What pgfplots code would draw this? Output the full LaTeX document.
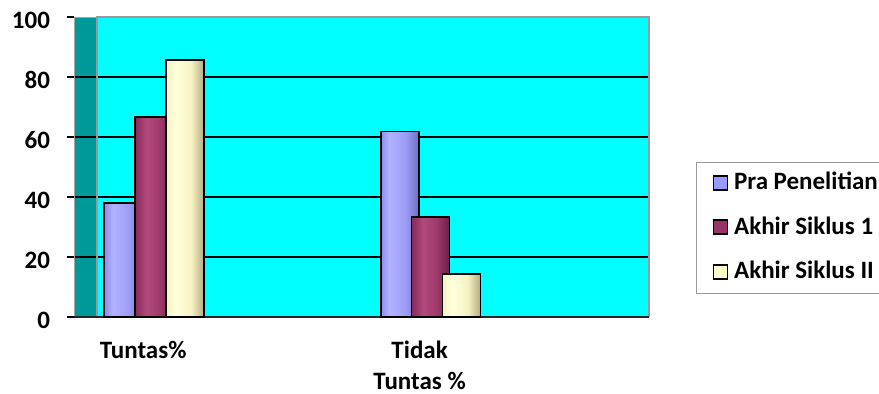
\documentclass[border=0pt]{standalone}
\usepackage{fontspec}
\setmainfont{Carlito}
\usepackage{pgfplots}
\pgfplotsset{compat=1.18}

\definecolor{wallback}{HTML}{00FFFF}
\definecolor{wallside}{HTML}{009999}
\definecolor{blA}{HTML}{8C8CEC}
\definecolor{blB}{HTML}{B2B2FF}
\definecolor{blC}{HTML}{9C9CF6}
\definecolor{blD}{HTML}{6E6EC2}
\definecolor{mrA}{HTML}{872B5B}
\definecolor{mrB}{HTML}{B24A7C}
\definecolor{mrC}{HTML}{9E3A6A}
\definecolor{mrD}{HTML}{6A1E46}
\definecolor{crA}{HTML}{F4F1C4}
\definecolor{crB}{HTML}{FFFFDC}
\definecolor{crC}{HTML}{F6F2C2}
\definecolor{crD}{HTML}{B2AA80}
\definecolor{legblue}{HTML}{9999FF}
\definecolor{legmaroon}{HTML}{993366}
\definecolor{legcream}{HTML}{FFFFCC}

% cylinder-like shading across each column (path spans 25bp..75bp)
\pgfdeclarehorizontalshading{colblue}{100bp}{color(0bp)=(blA); color(25bp)=(blA); color(36bp)=(blB); color(58bp)=(blC); color(75bp)=(blD); color(100bp)=(blD)}
\pgfdeclarehorizontalshading{colmaroon}{100bp}{color(0bp)=(mrA); color(25bp)=(mrA); color(40bp)=(mrB); color(58bp)=(mrC); color(75bp)=(mrD); color(100bp)=(mrD)}
\pgfdeclarehorizontalshading{colcream}{100bp}{color(0bp)=(crA); color(25bp)=(crA); color(38bp)=(crB); color(58bp)=(crC); color(75bp)=(crD); color(100bp)=(crD)}

\pgfplotsset{
  column/.style={ybar, forget plot, bar width=0.275, draw=black, line width=0.8pt},
  colA/.style={column, bar shift=-0.144, shading=colblue},
  colB/.style={column, bar shift=0.080, shading=colmaroon},
  colC/.style={column, bar shift=0.304, shading=colcream},
}

\begin{document}
\begin{tikzpicture}
\useasboundingbox (0,0) rectangle (439.5pt,196.5pt);
\begin{axis}[
  at={(37pt,38pt)}, anchor=south west,
  scale only axis, width=276.5pt, height=150pt,
  xmin=-0.5, xmax=3.5, ymin=0, ymax=100,
  clip=false,
  axis line style={draw=none},
  xtick={0,1,2,3},
  xticklabels={{Tuntas\%},{},{Tidak\\Tuntas \%},{}},
  xtick pos=bottom, ytick pos=left,
  major x tick style={draw=none},
  extra x ticks={-0.5,0.5,1.5,2.5,3.5},
  extra x tick labels={},
  extra x tick style={major tick length=3.5pt, tick style={draw=gray!70, line width=0.5pt}},
  ytick={0,20,40,60,80,100},
  tick align=outside,
  major tick length=3.5pt,
  y tick style={draw=black, line width=0.8pt},
  /pgf/number format/assume math mode=true,
  ticklabel style={font=\fontsize{12.5}{15.5}\selectfont\bfseries},
  xticklabel style={align=center, yshift=-5pt},
  yticklabel style={xshift=-5pt, yshift=-1.5pt},
  legend style={at={(1.1248,0.5167)}, anchor=north west,
    draw=gray!80, line width=0.6pt, inner xsep=8pt, inner ysep=4.5pt,
    row sep=10.25pt,
    font=\fontsize{12.5}{14}\selectfont\bfseries,
    nodes={inner sep=0pt, text height=9pt, text depth=3pt},
    legend cell align=left},
  legend image code/.code={\draw[#1, line width=0.9pt] (0pt,-3.1pt) rectangle (7pt,3.9pt);\path (10pt,0pt);},
]
% back wall and side wall of the 3-D frame
\fill[wallback] (axis cs:-0.334,0) rectangle (axis cs:3.659,100);
\fill[wallside] (axis cs:-0.5,0) rectangle (axis cs:-0.334,100);
\pgfplotsinvokeforeach{20,40,60,80}{
  \draw[black, line width=0.8pt] (axis cs:-0.5,#1) -- (axis cs:3.659,#1);
}
\draw[gray!80, line width=0.6pt] (axis cs:-0.334,0) -- (axis cs:-0.334,100) -- (axis cs:3.659,100) -- (axis cs:3.659,0);
\draw[gray!70, line width=0.5pt] (axis cs:-0.5,0) -- (axis cs:-0.5,100) -- (axis cs:-0.334,100);
\draw[black!85, line width=0.7pt] (axis cs:-0.5,0) -- (axis cs:3.659,0);

\addlegendimage{draw=black, fill=legblue}
\addlegendentry{Pra Penelitian}
\addlegendimage{draw=black, fill=legmaroon}
\addlegendentry{Akhir Siklus 1}
\addlegendimage{draw=black, fill=legcream}
\addlegendentry{Akhir Siklus II}

% one column per plot so each gets its own shading; later ones overlap earlier sides
\addplot[colA] coordinates {(0,38.1)};
\addplot[colB] coordinates {(0,66.7)};
\addplot[colC] coordinates {(0,85.7)};
\addplot[colA] coordinates {(2,61.9)};
\addplot[colB] coordinates {(2,33.3)};
\addplot[colC] coordinates {(2,14.3)};
\end{axis}
\end{tikzpicture}
\end{document}
